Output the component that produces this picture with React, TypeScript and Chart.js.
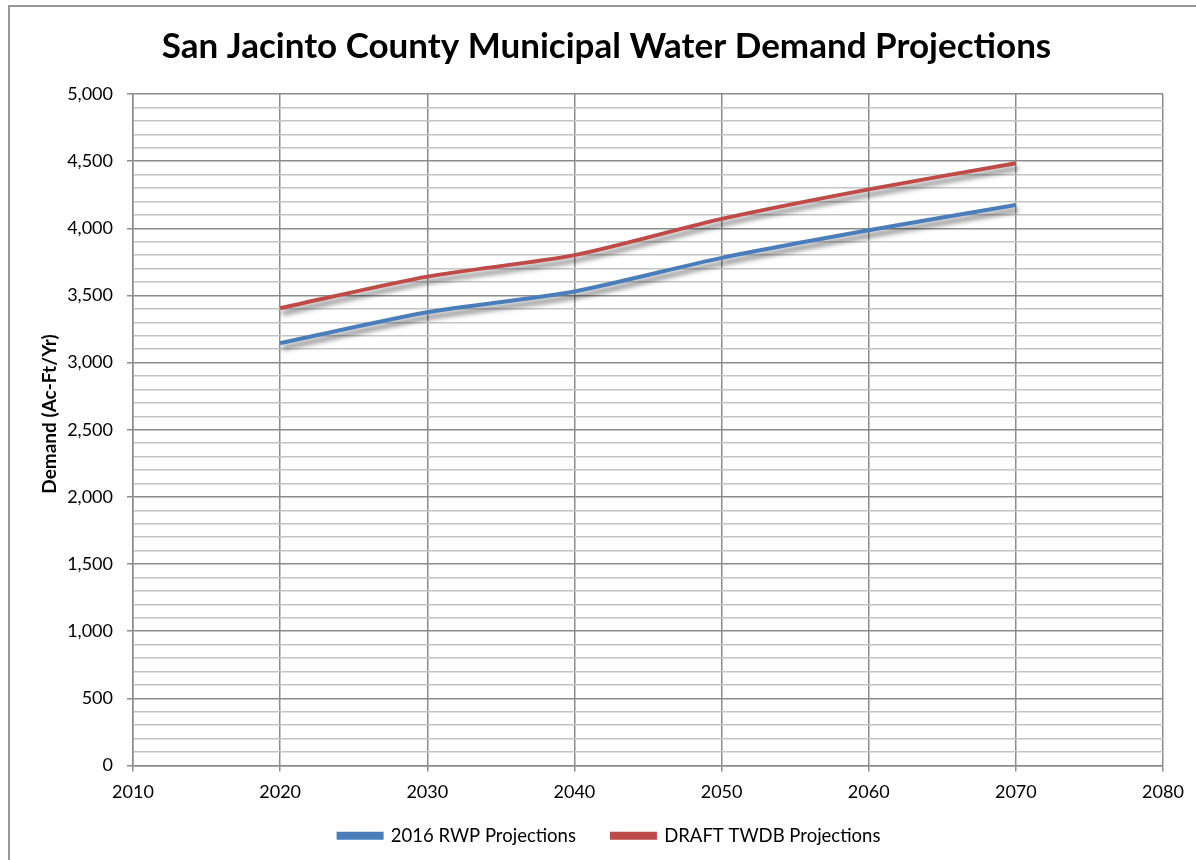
import React, { useEffect, useRef } from "react";
import { Chart, registerables } from "chart.js";

Chart.register(...registerables);

const years = [2020, 2030, 2040, 2050, 2060, 2070];
const rwp2016 = [3145, 3375, 3530, 3780, 3985, 4173];
const draftTwdb = [3405, 3640, 3800, 4070, 4290, 4485];
const seriesNames = ["2016 RWP Projections", "DRAFT TWDB Projections"];
const titleText = "San Jacinto County Municipal Water Demand Projections";
const yTitle = "Demand (Ac-Ft/Yr)";

const FONT = "Lato, 'Open Sans', sans-serif";

const shadowPlugin = {
  id: "lineShadow",
  beforeDatasetDraw(chart: any) {
    const ctx = chart.ctx;
    ctx.save();
    ctx.shadowColor = "rgba(0,0,0,0.5)";
    ctx.shadowBlur = 5;
    ctx.shadowOffsetX = 2;
    ctx.shadowOffsetY = 5;
  },
  afterDatasetDraw(chart: any) {
    chart.ctx.restore();
  },
};

const layoutShiftPlugin = {
  id: "layoutShift",
  afterLayout(chart: any) {
    if (chart.titleBlock) {
      chart.titleBlock.left += 25;
      chart.titleBlock.right += 25;
    }
    if (chart.legend) {
      chart.legend.left += 28;
      chart.legend.right += 28;
      chart.legend.top -= 18;
      chart.legend.bottom -= 18;
    }
  },
};

const decorPlugin = {
  id: "decor",
  afterDraw(chart: any) {
    const ctx = chart.ctx;
    ctx.save();
    ctx.strokeStyle = "#979797";
    ctx.lineWidth = 2;
    ctx.beginPath();
    ctx.moveTo(9, 860);
    ctx.lineTo(9, 6);
    ctx.lineTo(1196, 6);
    ctx.stroke();
    ctx.restore();

    // y-axis title
    ctx.save();
    ctx.translate(50, 414);
    ctx.rotate(-Math.PI / 2);
    ctx.fillStyle = "#000";
    ctx.font = "bold 19px " + FONT;
    ctx.textAlign = "center";
    ctx.textBaseline = "middle";
    ctx.fillText(yTitle, 0, 0);
    ctx.restore();
  },
};

export default function App() {
  const ref = useRef<HTMLCanvasElement | null>(null);
  useEffect(() => {
    if (!ref.current) return;
    const chart = new Chart(ref.current, {
      type: "line",
      data: {
        datasets: [
          {
            label: seriesNames[0],
            data: years.map((x, i) => ({ x, y: rwp2016[i] })),
            borderColor: "#4A7EBB",
            backgroundColor: "#4A7EBB",
            borderWidth: 4,
            pointRadius: 0,
            tension: 0.25,
          },
          {
            label: seriesNames[1],
            data: years.map((x, i) => ({ x, y: draftTwdb[i] })),
            borderColor: "#BE4B48",
            backgroundColor: "#BE4B48",
            borderWidth: 4,
            pointRadius: 0,
            tension: 0.25,
          },
        ],
      },
      options: {
        animation: false,
        responsive: false,
        layout: { padding: { left: 0, right: 33, top: 0, bottom: -13 } },
        plugins: {
          title: {
            display: true,
            text: titleText,
            color: "#000",
            font: { family: FONT, size: 35, weight: "bold" },
            padding: { top: 26, bottom: 26 },
          },
          legend: {
            position: "bottom",
            labels: {
              color: "#000",
              font: { family: FONT, size: 18.5 },
              boxWidth: 43,
              boxHeight: 4,
              padding: 36,
            },
          },
          tooltip: { enabled: false },
        },
        scales: {
          x: {
            type: "linear",
            min: 2010,
            max: 2080,
            ticks: {
              stepSize: 10,
              color: "#000",
              font: { family: FONT, size: 18 },
              padding: 10,
              callback: (v: any) => String(v),
            },
            grid: { color: "#8c8c8c", lineWidth: 1.5, tickLength: 6, tickColor: "#8c8c8c" },
            border: { color: "#8c8c8c", width: 1.5 },
            afterFit: (s: any) => {
              s.height = 43;
            },
          },
          y: {
            min: 0,
            max: 5000,
            ticks: {
              stepSize: 100,
              autoSkip: false,
              color: "#000",
              font: { family: FONT, size: 18 },
              padding: 14,
              callback: (v: any) => (v % 500 === 0 ? Number(v).toLocaleString("en-US") : ""),
            },
            grid: {
              color: (c: any) => (c.tick && c.tick.value % 500 === 0 ? "#8c8c8c" : "#c4c4c4"),
              lineWidth: 1.5,
              tickLength: 6,
              tickColor: (c: any) => (c.tick && c.tick.value % 500 === 0 ? "#8c8c8c" : "rgba(0,0,0,0)"),
            },
            border: { color: "#8c8c8c", width: 1.5 },
            title: { display: false, text: yTitle },
            afterFit: (s: any) => {
              s.width = 133;
            },
          },
        },
      },
      plugins: [shadowPlugin, layoutShiftPlugin, decorPlugin],
    });
    return () => chart.destroy();
  }, []);
  return (
    <div style={{ position: "absolute", left: 0, top: 0, width: 1196, height: 860, background: "#fff" }}>
      <canvas ref={ref} width={1196} height={860} style={{ display: "block" }} />
    </div>
  );
}
